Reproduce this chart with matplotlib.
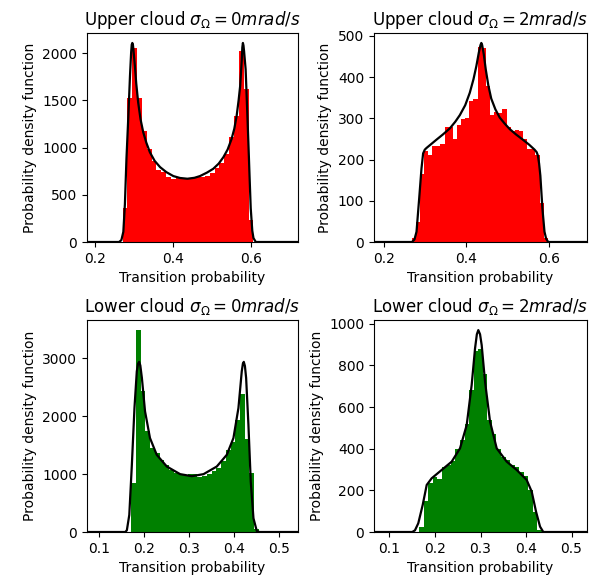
import numpy as np
import matplotlib
matplotlib.use("Agg")
import matplotlib.pyplot as plt

titles = [r"Upper cloud $\sigma_\Omega = 0 mrad/s$",
          r"Upper cloud $\sigma_\Omega = 2 mrad/s$",
          r"Lower cloud $\sigma_\Omega = 0 mrad/s$",
          r"Lower cloud $\sigma_\Omega = 2 mrad/s$"]
xlabel = "Transition probability"
ylabel = "Probability density function"

# ---- Upper cloud, sigma = 0 ----
u0_bin_start = 0.271
u0_bin_width = 0.0124
u0_hist = [358, 1530, 2056, 1530, 1179, 989, 863, 758, 740, 687, 663, 680, 670, 665,
           675, 690, 687, 700, 726, 780, 832, 937, 1109, 1337, 2021, 1620, 231]
u0_curve_x = [0.18, 0.262, 0.268, 0.273, 0.277, 0.281, 0.286, 0.290, 0.293, 0.2945, 0.296,
              0.2975, 0.299, 0.3026, 0.306, 0.311, 0.317, 0.324, 0.332, 0.341, 0.353, 0.367,
              0.383, 0.401, 0.418, 0.437, 0.455, 0.469, 0.487, 0.503, 0.517, 0.529, 0.540,
              0.550, 0.557, 0.563, 0.568, 0.572, 0.576, 0.5775, 0.579, 0.5805, 0.582, 0.586,
              0.589, 0.593, 0.596, 0.599, 0.603, 0.606, 0.612, 0.72]
u0_curve_y = [0, 0, 20, 108, 400, 884, 1350, 1758, 2010, 2090, 2108,
              2090, 2030, 1863, 1680, 1477, 1300, 1161, 1050, 950, 860, 793,
              740, 698, 678, 670, 680, 698, 735, 775, 830, 898, 980,
              1091, 1200, 1337, 1500, 1653, 1920, 2060, 2108, 2080, 2020, 1828,
              1500, 1056, 700, 358, 120, 42, 0, 0]

# ---- Upper cloud, sigma = 2 ----
u2_bin_start = 0.267
u2_bin_width = 0.0100
u2_hist = [10, 49, 166, 222, 210, 234, 234, 238, 278, 278, 250, 283, 299, 300, 343,
           347, 472, 470, 379, 307, 315, 313, 323, 278, 270, 272, 270, 250, 226, 226,
           210, 94, 10]
u2_curve_x = [0.176, 0.268, 0.274, 0.279, 0.2854, 0.291, 0.295, 0.299, 0.303, 0.315, 0.327,
              0.343, 0.360, 0.373, 0.384, 0.397, 0.408, 0.417, 0.424, 0.430, 0.434, 0.436,
              0.438, 0.442, 0.4467, 0.453, 0.460, 0.470, 0.4805, 0.492, 0.5047, 0.520, 0.537,
              0.552, 0.565, 0.570, 0.573, 0.576, 0.579, 0.584, 0.589, 0.593, 0.598, 0.692]
u2_curve_y = [0, 0, 6, 25, 105, 178, 215, 224, 228, 238, 248,
              261, 276, 292, 308, 332, 362, 395, 427, 460, 478, 483,
              478, 455, 419, 380, 348, 322, 302, 288, 274, 261, 248,
              236, 224, 218, 210, 190, 161, 81, 25, 8, 0, 0]

# ---- Lower cloud, sigma = 0 ----
l0_bin_start = 0.1715
l0_bin_width = 0.0105
l0_hist = [850, 3490, 2430, 1740, 1460, 1370, 1250, 1160, 1075, 1017, 1000, 985, 1010,
           1000, 945, 960, 1010, 1060, 1100, 1230, 1420, 1560, 1940, 2380, 1600, 1017, 60]
l0_curve_x = [0.073, 0.158, 0.1616, 0.167, 0.1727, 0.1785, 0.1837, 0.1865, 0.1889, 0.1915,
              0.195, 0.202, 0.213, 0.228, 0.2504, 0.280, 0.306, 0.332, 0.3615, 0.3837,
              0.3985, 0.4096, 0.417, 0.4195, 0.4215, 0.4240, 0.4267, 0.4318, 0.437, 0.443,
              0.4504, 0.456, 0.542]
l0_curve_y = [0, 0, 30, 295, 1161, 2143, 2778, 2910, 2941, 2880,
              2663, 2085, 1624, 1334, 1132, 1000, 965, 1000, 1132, 1334,
              1624, 2143, 2778, 2910, 2941, 2870, 2663, 1854, 872, 237,
              17, 0, 0]

# ---- Lower cloud, sigma = 2 ----
l2_bin_start = 0.165
l2_bin_width = 0.0100
l2_hist = [25, 150, 234, 265, 255, 313, 320, 340, 400, 440, 520, 680, 870, 880, 760,
           540, 470, 400, 360, 345, 320, 310, 290, 270, 200, 95, 10]
l2_curve_x = [0.066, 0.150, 0.1560, 0.1633, 0.173, 0.1818, 0.1927, 0.2147, 0.2367, 0.255,
              0.2697, 0.2806, 0.288, 0.2920, 0.2952, 0.2990, 0.3026, 0.31, 0.321, 0.3356,
              0.3576, 0.3796, 0.4015, 0.4125, 0.422, 0.4308, 0.438, 0.534]
l2_curve_y = [0, 0, 8, 42, 130, 226, 258, 298, 338, 402,
              514, 706, 882, 950, 970, 950, 898, 722, 530, 402,
              338, 298, 250, 194, 98, 26, 0, 0]

panels = [
    (u0_bin_start, u0_bin_width, u0_hist, u0_curve_x, u0_curve_y, "red", (0.18, 0.72)),
    (u2_bin_start, u2_bin_width, u2_hist, u2_curve_x, u2_curve_y, "red", (0.176, 0.692)),
    (l0_bin_start, l0_bin_width, l0_hist, l0_curve_x, l0_curve_y, "green", (0.073, 0.542)),
    (l2_bin_start, l2_bin_width, l2_hist, l2_curve_x, l2_curve_y, "green", (0.066, 0.534)),
]

W, H = 599, 579
fig = plt.figure(figsize=(W / 100, H / 100), dpi=100)
boxes = [(87, 298, 33, 242), (374, 587, 33, 242), (87, 298, 320, 532), (374, 587, 320, 532)]

for (start, width, hist, cx, cy, color, xlim), (l, r, t, b), title in zip(panels, boxes, titles):
    ax = fig.add_axes([l / W, 1 - b / H, (r - l) / W, (b - t) / H])
    edges = start + width * np.arange(len(hist) + 1)
    ax.stairs(hist, edges, fill=True, color=color, linewidth=0)
    ax.plot(cx, cy, color="black", lw=1.6)
    ax.set_xlim(*xlim)
    ymax = max(max(hist), max(cy)) * 1.05
    ax.set_ylim(0, ymax)
    ax.set_title(title, fontsize=12)
    ax.set_xlabel(xlabel)
    ax.set_ylabel(ylabel)

fig.savefig("out.png", dpi=100)
